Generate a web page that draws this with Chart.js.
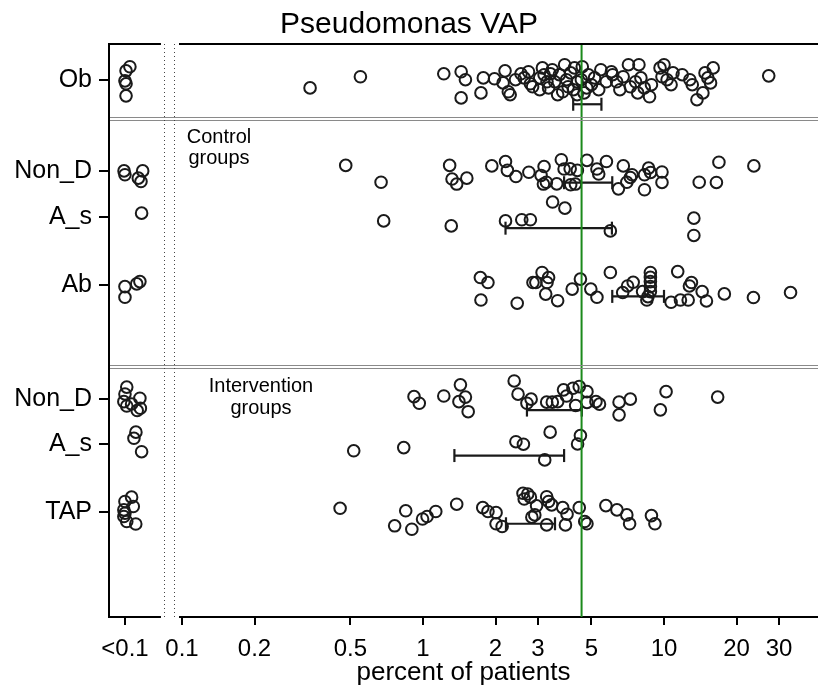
<!DOCTYPE html>
<html lang="en">
<head>
  <meta charset="UTF-8">
  <title>Pseudomonas VAP</title>
  <script src="https://cdn.jsdelivr.net/npm/chart.js"></script>
  <style>
    html, body { margin: 0; padding: 0; background: #fff; }
    #wrap { width: 818px; height: 688px; }
  </style>
</head>
<body>
<div id="wrap"><canvas id="vapChart"></canvas></div>
<script>
  // groups, top to bottom, and their row on the y axis
  const groupNames = ['Ob', 'Non_D', 'A_s', 'Ab', 'Non_D', 'A_s', 'TAP'];
  const groupRows = [23.6, 19.6, 17.6, 14.6, 9.6, 7.6, 4.6];
  const separatorRows = [21.9, 11.0];

  // x ticks (the "<0.1" column sits at 0.058)
  const xTickValues = [0.058, 0.1, 0.2, 0.5, 1, 2, 3, 5, 10, 20, 30];
  const xTickLabels = ['<0.1', '0.1', '0.2', '0.5', '1', '2', '3', '5', '10', '20', '30'];

  const refLine = 4.55;

  // percent of patients per ICU, with vertical jitter (rows)
  const obVals = [0.0586, 0.0608, 0.058, 0.0586, 0.0586,
    0.34, 0.55, 1.22, 1.44, 1.50, 1.44, 1.74, 1.78, 1.98, 2.19, 2.15, 2.26, 2.30, 2.42, 2.55, 2.63, 2.74, 2.85,
    3.05, 3.05, 3.13, 3.18, 3.27, 3.38, 3.52, 3.68, 3.62, 3.80, 3.87, 4.00, 4.10, 4.21, 4.36, 4.36, 4.58, 4.54,
    4.66, 4.86, 5.00, 5.15, 5.47, 5.76, 6.12, 6.05, 6.36, 6.77, 7.12, 7.25, 7.78, 7.87, 8.02, 8.28, 8.71, 8.87,
    9.63, 10.0, 9.81, 10.3, 10.9, 10.7, 11.9, 12.8, 13.1, 13.7, 14.5, 14.8, 15.2, 15.6, 16.0, 27.2,
    3.32, 3.94, 4.78, 5.36, 6.56, 7.62, 2.79, 3.44, 4.25];
  const obJit = [0.42, 0.60, -0.02, -0.15, -0.68,
    -0.33, 0.16, 0.29, 0.38, 0.03, -0.77, -0.55, 0.11, 0.07, 0.42, -0.11, -0.50, -0.63, 0.03, 0.29, 0.11, 0.38, -0.28,
    -0.41, 0.11, 0.55, 0.25, -0.06, 0.29, -0.06, 0.25, -0.63, -0.50, 0.69, -0.28, 0.33, -0.41, -0.06, -0.63, 0.60, 0.03,
    -0.55, 0.25, -0.19, 0.11, 0.47, -0.06, 0.25, 0.38, -0.06, 0.16, 0.69, -0.28, -0.55, 0.69, 0.11, -0.33, -0.72, -0.19,
    0.55, 0.69, 0.16, 0.03, 0.33, -0.19, 0.25, 0.03, -0.19, -0.85, -0.55, 0.33, 0.11, -0.11, 0.55, 0.20,
    -0.33, 0.03, -0.33, -0.41, -0.41, -0.06, -0.15, 0.47, 0.55];

  const ctrlNonDVals = [0.0575, 0.058, 0.0687, 0.0659, 0.0676,
    0.478, 0.670, 1.29, 1.32, 1.38, 1.52, 1.93, 2.20, 2.24, 2.43, 2.75,
    3.09, 3.18, 3.16, 3.25, 3.59, 3.75, 3.85, 4.08, 4.37, 4.10, 4.29, 4.79,
    5.27, 5.36, 5.77, 6.47, 6.78, 7.01, 7.25, 7.37, 8.30, 8.63, 8.80, 8.30, 9.81, 9.81,
    14.0, 16.5, 16.9, 23.6];
  const ctrlNonDJit = [0.02, -0.15, 0.02, -0.30, -0.45,
    0.26, -0.48, 0.26, -0.34, -0.56, -0.30, 0.24, 0.43, 0.04, -0.23, -0.04,
    -0.18, 0.21, -0.56, -0.48, -0.55, 0.51, 0.10, 0.11, 0.04, -0.59, -0.56, 0.48,
    0.10, -0.12, 0.43, -0.77, 0.24, -0.48, -0.27, -0.15, -0.15, 0.14, -0.05, -0.81, -0.03, -0.49,
    -0.48, -0.49, 0.40, 0.24];

  const ctrlAsVals = [0.068, 0.687, 1.31, 2.20, 2.57, 2.79, 3.45, 3.88, 5.99, 13.3, 13.3];
  const ctrlAsJit = [0.16, -0.18, -0.40, -0.18, -0.13, -0.13, 0.65, 0.38, -0.62, -0.06, -0.82];

  const ctrlAbVals = [0.058, 0.058, 0.0669, 0.0649,
    1.73, 1.86, 1.74, 2.46, 2.86, 2.94, 3.12, 3.32, 3.27, 3.23, 3.62, 4.16, 4.50, 4.97,
    5.27, 5.99, 6.74, 7.06, 7.45, 8.58, 8.78, 8.78, 8.78, 8.78, 8.78, 8.49, 8.15,
    11.4, 12.75, 13.0, 10.7, 11.7, 12.6, 14.4, 15.0, 17.8, 23.5, 33.5];
  const ctrlAbJit = [-0.07, -0.54, 0.15, 0.05,
    0.33, 0.11, -0.66, -0.80, 0.11, 0.11, 0.55, 0.33, 0.11, -0.40, -0.69, -0.18, 0.26, -0.18,
    -0.54, 0.55, -0.33, -0.04, 0.12, -0.51, 0.55, 0.34, 0.15, -0.07, -0.29, -0.66, -0.29,
    0.59, -0.04, 0.11, -0.76, -0.66, -0.66, -0.29, -0.70, -0.39, -0.55, -0.33];

  const intNonDVals = [0.059, 0.058, 0.0574, 0.059, 0.0669, 0.0652, 0.0672, 0.0618,
    0.918, 0.965, 1.22, 1.43, 1.41, 1.50, 1.54, 2.39, 2.48, 2.70, 2.81,
    3.26, 3.44, 3.62, 3.83, 3.94, 4.19, 4.45, 4.30, 4.79, 4.79,
    5.22, 5.40, 6.51, 6.51, 7.25, 9.66, 10.2, 16.7];
  const intNonDJit = [0.51, 0.21, -0.13, -0.32, 0.02, -0.52, -0.42, -0.23,
    0.09, -0.20, 0.12, 0.61, -0.13, 0.07, -0.57, 0.78, 0.20, -0.20, -0.02,
    -0.15, -0.15, -0.13, 0.39, 0.12, 0.46, 0.53, -0.30, 0.31, -0.16,
    -0.13, -0.24, -0.71, -0.15, -0.02, -0.49, 0.31, 0.07];

  const intAsVals = [0.0644, 0.0632, 0.068, 0.516, 0.832, 2.43, 2.61, 3.20, 3.37, 4.50, 4.38];
  const intAsJit = [0.53, 0.26, -0.33, -0.29, -0.15, 0.11, 0.0, -0.69, 0.53, 0.38, 0.01];

  const tapVals = [0.0618, 0.058, 0.0574, 0.0628, 0.0574, 0.059, 0.0643, 0.058,
    0.453, 0.848, 0.763, 0.899, 0.996, 1.04, 1.13, 1.38, 1.77, 1.86,
    2.01, 2.01, 2.13, 2.60, 2.72, 2.63, 2.79, 2.96, 2.91, 2.83,
    3.26, 3.32, 3.42, 3.26, 3.80, 3.96, 3.90, 4.45, 4.69, 4.79,
    5.74, 6.38, 7.01, 7.20, 8.87, 9.17];
  const tapJit = [0.67, 0.48, 0.11, 0.26, -0.18, -0.40, -0.51, -0.04,
    0.18, 0.07, -0.59, -0.74, -0.29, -0.18, 0.04, 0.36, 0.21, 0.04,
    -0.01, -0.50, -0.62, 0.84, 0.81, 0.59, 0.67, 0.29, -0.11, -0.21,
    0.69, 0.48, 0.33, -0.55, 0.21, -0.08, -0.55, 0.21, -0.40, -0.50,
    0.30, 0.11, -0.11, -0.50, -0.14, -0.50];

  // median and interquartile range per group
  const barLow = [4.2, 3.85, 2.20, 6.1, 2.70, 1.35, 2.21];
  const barHigh = [5.5, 6.10, 6.08, 10.0, 4.56, 3.85, 3.53];

  const groupVals = [obVals, ctrlNonDVals, ctrlAsVals, ctrlAbVals, intNonDVals, intAsVals, tapVals];
  const groupJit = [obJit, ctrlNonDJit, ctrlAsJit, ctrlAbJit, intNonDJit, intAsJit, tapJit];

  const yTop = 25.2;
  const ink = '#1a1a1a';

  Chart.defaults.font.family = '"Liberation Sans", Arial, sans-serif';
  Chart.defaults.color = '#000';

  var points = [];
  groupVals.forEach(function (vals, g) {
    vals.forEach(function (v, i) {
      points.push({ x: v, y: groupRows[g] + groupJit[g][i] });
    });
  });

  var datasets = [{
    data: points,
    showLine: false,
    pointRadius: 5.8,
    pointBorderWidth: 2,
    pointBackgroundColor: 'rgba(0,0,0,0)',
    pointBorderColor: ink,
    order: 3
  }];

  // the IQR bars sit half a row under each group (Ob a bit lower)
  groupRows.forEach(function (row, g) {
    var yb = row - (g === 0 ? 1.05 : 0.5);
    datasets.push({
      data: [{ x: barLow[g], y: yb }, { x: barHigh[g], y: yb }],
      showLine: true,
      borderColor: ink,
      borderWidth: 2.2,
      pointStyle: 'line',
      rotation: 90,
      pointRadius: 6.5,
      pointBorderWidth: 2.2,
      pointBorderColor: ink,
      order: 2
    });
  });

  datasets.push({
    data: [{ x: refLine, y: 0 }, { x: refLine, y: yTop }],
    showLine: true,
    borderColor: '#1b8a1b',
    borderWidth: 2,
    pointRadius: 0,
    order: 1
  });

  const decor = {
    id: 'decor',
    afterDraw: function (chart) {
      var ctx = chart.ctx, a = chart.chartArea;
      var xs = chart.scales.x, ys = chart.scales.y;
      ctx.save();
      // top frame line
      ctx.strokeStyle = '#000';
      ctx.lineWidth = 2;
      ctx.beginPath();
      ctx.moveTo(a.left - 1, a.top);
      ctx.lineTo(a.right, a.top);
      ctx.stroke();
      // axis break band
      var b0 = xs.getPixelForValue(0.0818), b1 = xs.getPixelForValue(0.0972);
      ctx.fillStyle = '#fff';
      ctx.fillRect(b0, a.top - 2, b1 - b0, a.bottom - a.top + 4);
      // group separators (double grey lines)
      ctx.strokeStyle = '#8a8a8a';
      ctx.lineWidth = 1;
      separatorRows.forEach(function (r) {
        var py = Math.round(ys.getPixelForValue(r));
        [py - 1.5, py + 1.5].forEach(function (yy) {
          ctx.beginPath();
          ctx.moveTo(a.left + 1, yy);
          ctx.lineTo(a.right, yy);
          ctx.stroke();
        });
      });
      // dotted break lines
      ctx.strokeStyle = '#444';
      ctx.setLineDash([1, 3]);
      [0.0842, 0.0926].forEach(function (v) {
        var px = Math.round(xs.getPixelForValue(v)) + 0.5;
        ctx.beginPath();
        ctx.moveTo(px, a.top);
        ctx.lineTo(px, a.bottom);
        ctx.stroke();
      });
      ctx.setLineDash([]);
      // group captions
      ctx.fillStyle = '#000';
      ctx.font = '20px "Liberation Sans", Arial, sans-serif';
      ctx.textAlign = 'center';
      ctx.textBaseline = 'middle';
      var cx = xs.getPixelForValue(0.1424);
      ctx.fillText('Control', cx, ys.getPixelForValue(21.07));
      ctx.fillText('groups', cx, ys.getPixelForValue(20.15));
      var ix = xs.getPixelForValue(0.2127);
      ctx.fillText('Intervention', ix, ys.getPixelForValue(10.12));
      ctx.fillText('groups', ix, ys.getPixelForValue(9.19));
      ctx.restore();
    }
  };

  var ctx = document.getElementById('vapChart').getContext('2d');
  var vapChart = new Chart(ctx, {
    type: 'scatter',
    data: { datasets: datasets },
    options: {
      responsive: true,
      maintainAspectRatio: false,
      animation: false,
      layout: { padding: 0, autoPadding: false },
      plugins: {
        legend: { display: false },
        tooltip: { enabled: false },
        title: {
          display: true,
          text: 'Pseudomonas VAP',
          color: '#000',
          font: { size: 30, weight: 'normal' },
          padding: { top: 7, bottom: 1 }
        }
      },
      scales: {
        x: {
          type: 'logarithmic',
          min: 0.0498,
          max: 43.55,
          afterBuildTicks: function (scale) {
            scale.ticks = xTickValues.map(function (v) { return { value: v }; });
          },
          afterFit: function (scale) {
            scale.height = 71;
            scale.paddingLeft = 0;
            scale.paddingRight = 0;
          },
          ticks: {
            autoSkip: false,
            maxRotation: 0,
            padding: 10,
            font: { size: 24 },
            callback: function (value, index) { return xTickLabels[index]; }
          },
          grid: { drawOnChartArea: false, tickLength: 8, color: '#000', lineWidth: 2 },
          border: { display: true, color: '#000', width: 2 },
          title: {
            display: true,
            text: 'percent of patients',
            font: { size: 26 },
            padding: { top: 0, bottom: 0 }
          }
        },
        y: {
          type: 'linear',
          min: 0,
          max: yTop,
          afterBuildTicks: function (scale) {
            scale.ticks = groupRows.map(function (v) { return { value: v }; });
          },
          afterFit: function (scale) { scale.width = 109; },
          ticks: {
            autoSkip: false,
            padding: 7,
            font: { size: 25 },
            callback: function (value, index) { return groupNames[index]; }
          },
          grid: { drawOnChartArea: false, tickLength: 10, color: '#000', lineWidth: 2 },
          border: { display: true, color: '#000', width: 2 }
        }
      }
    },
    plugins: [decor]
  });
</script>
</body>
</html>
